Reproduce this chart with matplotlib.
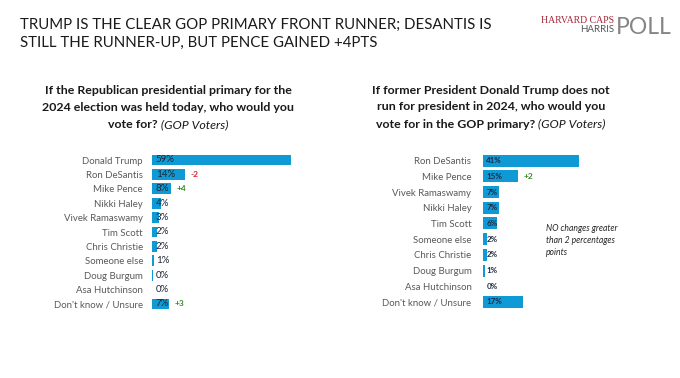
import matplotlib.pyplot as plt

plt.rcParams['font.family'] = ['Lato', 'DejaVu Sans']

# left panel: primary with Trump
left_names = ['Donald Trump', 'Ron DeSantis', 'Mike Pence', 'Nikki Haley', 'Vivek Ramaswamy',
              'Tim Scott', 'Chris Christie', 'Someone else', 'Doug Burgum', 'Asa Hutchinson',
              "Don't know / Unsure"]
left_values = [59, 14, 8, 4, 3, 2, 2, 1, 0.3, 0, 7]
left_labels = ['59%', '14%', '8%', '4%', '3%', '2%', '2%', '1%', '0%', '0%', '7%']
left_changes = ['', '-2', '+4', '', '', '', '', '', '', '', '+3']

# right panel: primary without Trump
right_names = ['Ron DeSantis', 'Mike Pence', 'Vivek Ramaswamy', 'Nikki Haley', 'Tim Scott',
               'Someone else', 'Chris Christie', 'Doug Burgum', 'Asa Hutchinson',
               "Don't know / Unsure"]
right_values = [41, 15, 7, 7, 6, 2, 2, 1, 0.3, 17]
right_labels = ['41%', '15%', '7%', '7%', '6%', '2%', '2%', '1%', '0%', '17%']
right_changes = ['', '+2', '', '', '', '', '', '', '', '']

BLUE = '#0f9ad6'
W, H = 680, 378

fig = plt.figure(figsize=(6.8, 3.78), dpi=100)


def px_axes(x0, y_top, width, y_bottom):
    return fig.add_axes([x0 / W, 1 - y_bottom / H, width / W, (y_bottom - y_top) / H])


def draw_panel(ax, names, values, labels, changes, label_kw, pad, xmax):
    y = list(range(len(names)))
    ax.barh(y, values, height=0.76, color=BLUE)
    ax.set_xlim(0, xmax)
    ax.set_ylim(len(names) - 0.5, -0.5)
    ax.set_yticks(y)
    ax.set_yticklabels(names, fontsize=6.9, color='#595959')
    ax.tick_params(axis='y', length=0, pad=pad)
    ax.set_xticks([])
    for s in ax.spines.values():
        s.set_visible(False)
    ax.patch.set_alpha(0)
    for yi, v, lab, ch in zip(y, values, labels, changes):
        ax.text(1.6, yi, lab, va='center', ha='left', **label_kw)
        if ch:
            col = '#d9262b' if ch.startswith('-') else '#3a8a2e'
            ax.text(v + 2.5, yi, ch, va='center', ha='left', fontsize=6,
                    fontweight='bold', color=col)


# 2.36 px per percentage point on both panels
axl = px_axes(152, 152.8, 236, 311.2)
draw_panel(axl, left_names, left_values, left_labels, left_changes,
           dict(fontsize=7, color='#1e2430'), 6.5, 100)

axr = px_axes(482.5, 152.8, 188.8, 309.8)
draw_panel(axr, right_names, right_values, right_labels, right_changes,
           dict(fontsize=5.8, fontweight='bold', color='#1e2a44'), 8, 80)

# title
fig.text(20.5 / W, 1 - 25 / H, 'TRUMP IS THE CLEAR GOP PRIMARY FRONT RUNNER; DESANTIS IS',
         fontsize=10.8, color='#1a1a1a', va='center')
fig.text(20.5 / W, 1 - 42.5 / H, 'STILL THE RUNNER-UP, BUT PENCE GAINED +4PTS',
         fontsize=10.8, color='#1a1a1a', va='center')

# logo
fig.text(614 / W, 1 - 20.5 / H, 'HARVARD CAPS', family='Liberation Serif', fontsize=7,
         color='#a3263a', ha='right', va='center')
fig.text(614 / W, 1 - 29.5 / H, 'HARRIS', fontsize=7, color='#555555', ha='right', va='center')
fig.text(616 / W, 1 - 27 / H, 'POLL', fontsize=16.5, color='#858585',
         ha='left', va='center')


def subtitle(cx, ys, lines):
    renderer = fig.canvas.get_renderer()
    for yy, line in zip(ys, lines):
        bold, ital = line
        t1 = fig.text(0, 1 - yy / H, bold, fontsize=8.9, fontweight='bold',
                      color='#1a1a1a', va='center')
        parts = [t1]
        if ital:
            t2 = fig.text(0, 1 - yy / H, ' ' + ital, fontsize=8.9, style='italic',
                          color='#1a1a1a', va='center')
            parts.append(t2)
        widths = [p.get_window_extent(renderer).width for p in parts]
        x = cx - sum(widths) / 2
        for p, w in zip(parts, widths):
            p.set_x(x / W)
            x += w


subtitle(168, [90.7, 107.3, 124.3],
         [('If the Republican presidential primary for the', ''),
          ('2024 election was held today, who would you', ''),
          ('vote for?', '(GOP Voters)')])
subtitle(491, [90.7, 107, 124],
         [('If former President Donald Trump does not', ''),
          ('run for president in 2024, who would you', ''),
          ('vote for in the GOP primary?', '(GOP Voters)')])

# note on right panel
fig.text(546 / W, 1 - 224 / H, 'NO changes greater\nthan 2 percentages\npoints', fontsize=6.2,
         style='italic', color='#262626', va='top', linespacing=1.45)

fig.savefig('out.png', dpi=100)
